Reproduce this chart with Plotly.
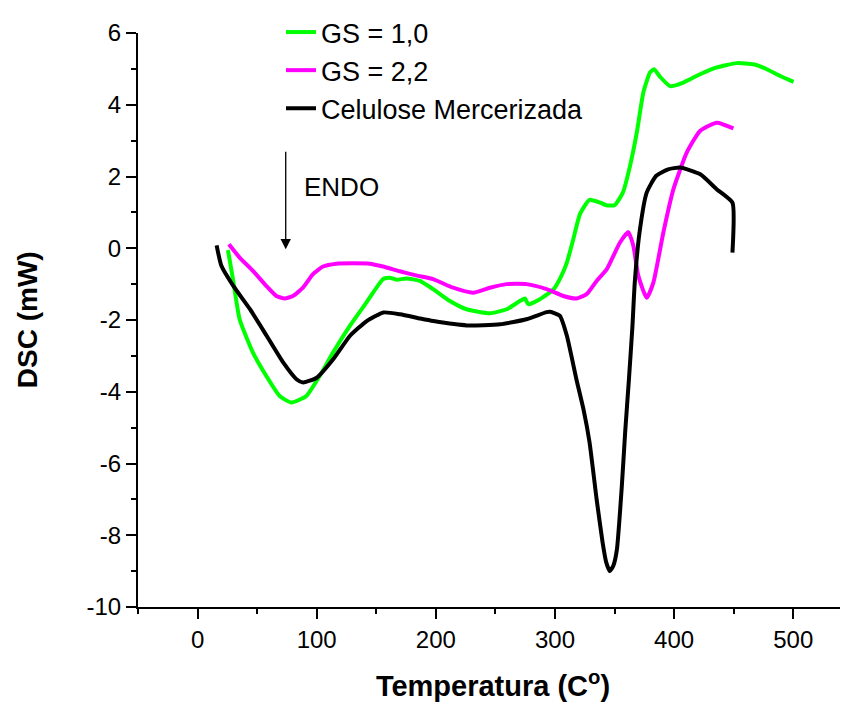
import plotly.graph_objects as go

# ---------------- data ----------------
cel_x = [16, 20, 30, 44, 58, 72, 83, 88.5, 100, 114, 128, 142, 156, 170, 187, 198,
         226, 254, 276, 293, 296, 304, 310, 318, 324, 329, 335, 340, 343, 346, 349,
         352, 356, 359, 362, 365, 367, 371, 377, 385, 395, 405, 422, 436, 449, 449]
cel_y = [0.08, -0.49, -1.05, -1.70, -2.44, -3.19, -3.65, -3.74, -3.61, -3.09, -2.44,
         -2.03, -1.79, -1.84, -1.96, -2.03, -2.15, -2.12, -1.98, -1.78, -1.77, -1.88,
         -2.44, -3.65, -4.5, -5.4, -7.0, -8.2, -8.75, -9.0, -8.85, -8.4, -6.7, -5.1,
         -3.7, -2.2, -0.96, 0.44, 1.55, 2.02, 2.2, 2.25, 2.06, 1.64, 1.27, -0.12]

gs10_x = [25.5, 29.7, 35.3, 46.5, 57.7, 68.9, 78.7, 91.3, 102.5, 113.7, 127.7, 141.8,
          155.7, 161.3, 167, 175.4, 186.6, 197.7, 211.8, 225.8, 245.4, 259.4, 270.6,
          274.8, 277.6, 287.4, 299, 305, 310, 315, 321, 329, 338, 343, 350, 357, 363,
          368.7, 374.2, 379.8, 383.2, 388.2, 396.6, 407.8, 421.8, 435.9, 452.7, 466.7,
          477.9, 489.1, 500.3]
gs10_y = [-0.05, -0.86, -1.98, -2.91, -3.56, -4.12, -4.30, -4.12, -3.56, -2.91, -2.17,
          -1.51, -0.86, -0.82, -0.88, -0.84, -0.91, -1.14, -1.47, -1.70, -1.81, -1.70,
          -1.47, -1.40, -1.56, -1.42, -1.14, -0.8, -0.4, 0.2, 0.95, 1.35, 1.27, 1.2,
          1.2, 1.55, 2.29, 3.22, 4.34, 4.90, 4.99, 4.78, 4.52, 4.62, 4.85, 5.04, 5.16,
          5.13, 4.99, 4.80, 4.64]

gs22_x = [26.3, 35.3, 46.5, 57.7, 66.1, 73.1, 80.1, 88.5, 96.9, 105.3, 116.5, 130.5,
          144.5, 155.7, 169.7, 185.1, 197.7, 214.5, 231.3, 245.4, 259.4, 276.2, 293,
          307, 318.2, 326.6, 335, 343.4, 354.6, 361.6, 365.8, 370, 377, 382.6, 391,
          399.4, 410.7, 421.8, 435.9, 449.8]
gs22_y = [0.11, -0.26, -0.63, -1.05, -1.33, -1.40, -1.33, -1.10, -0.72, -0.51, -0.43,
          -0.42, -0.43, -0.51, -0.64, -0.77, -0.86, -1.10, -1.24, -1.10, -1.0, -1.0,
          -1.14, -1.33, -1.40, -1.28, -0.91, -0.59, 0.16, 0.45, 0.07, -0.77, -1.38,
          -0.96, 0.44, 1.64, 2.67, 3.27, 3.50, 3.34]

names = ["GS = 1,0", "GS = 2,2", "Celulose Mercerizada"]
colors = ["#00FF00", "#FF00FF", "#000000"]

x_ticks = [0, 100, 200, 300, 400, 500]
x_ticktext = ["0", "100", "200", "300", "400", "500"]
y_ticks = [-10, -8, -6, -4, -2, 0, 2, 4, 6]
y_ticktext = ["-10", "-8", "-6", "-4", "-2", "0", "2", "4", "6"]

FONT = "Liberation Sans, Arial, sans-serif"

fig = go.Figure()
for name, xs, ys, col in zip(names, [gs10_x, gs22_x, cel_x], [gs10_y, gs22_y, cel_y], colors):
    fig.add_trace(go.Scatter(
        x=xs, y=ys, name=name, mode="lines",
        line=dict(color=col, width=4, shape="spline", smoothing=0.5),
    ))

axis_common = dict(
    showline=True, linecolor="black", linewidth=2,
    ticks="outside", ticklen=10, tickwidth=2, tickcolor="black",
    showgrid=False, zeroline=False, mirror=False, automargin=True,
    tickfont=dict(family=FONT, size=24, color="black"),
)

fig.update_xaxes(
    range=[-50, 546], tickvals=x_ticks, ticktext=x_ticktext,
    minor=dict(ticks="outside", ticklen=5, tickwidth=2, tickcolor="black", dtick=50, tick0=-50),
    title=dict(text="<b>Temperatura (C<sup>o</sup>)</b>", font=dict(family=FONT, size=29, color="black"),
               standoff=24),
    **axis_common,
)
fig.update_yaxes(
    range=[-10, 6], tickvals=y_ticks, ticktext=y_ticktext,
    minor=dict(ticks="outside", ticklen=5, tickwidth=2, tickcolor="black", dtick=1, tick0=-10),
    **axis_common,
)

# y-axis title (placed in the left margin)
fig.add_annotation(x=-0.156, y=0.5, xref="paper", yref="paper", text="<b>DSC (mW)</b>",
                   textangle=-90, showarrow=False, xanchor="center", yanchor="middle",
                   font=dict(family=FONT, size=28, color="black"))

fig.add_annotation(x=74, y=-0.03, ax=74, ay=2.73, axref="x", ayref="y", xref="x", yref="y",
                   text="", showarrow=True, arrowhead=2, arrowsize=1.6, arrowwidth=1.3,
                   arrowcolor="black")
fig.add_annotation(x=88, y=1.7, xref="x", yref="y", text="ENDO", showarrow=False,
                   xanchor="left", yanchor="middle", font=dict(family=FONT, size=26, color="black"))

# the page body adds an 8 px offset, so the figure is 8 px smaller than the window
fig.update_layout(
    width=840, height=701,
    margin=dict(l=130, r=0, t=25, b=102, autoexpand=False),
    plot_bgcolor="white", paper_bgcolor="white",
    font=dict(family=FONT, size=24, color="black"),
    legend=dict(xref="container", yref="container", x=0.325, y=1.01,
                xanchor="left", yanchor="top", bgcolor="rgba(0,0,0,0)",
                font=dict(family=FONT, size=27, color="black"), borderwidth=0),
)

fig.write_html("out.html")
